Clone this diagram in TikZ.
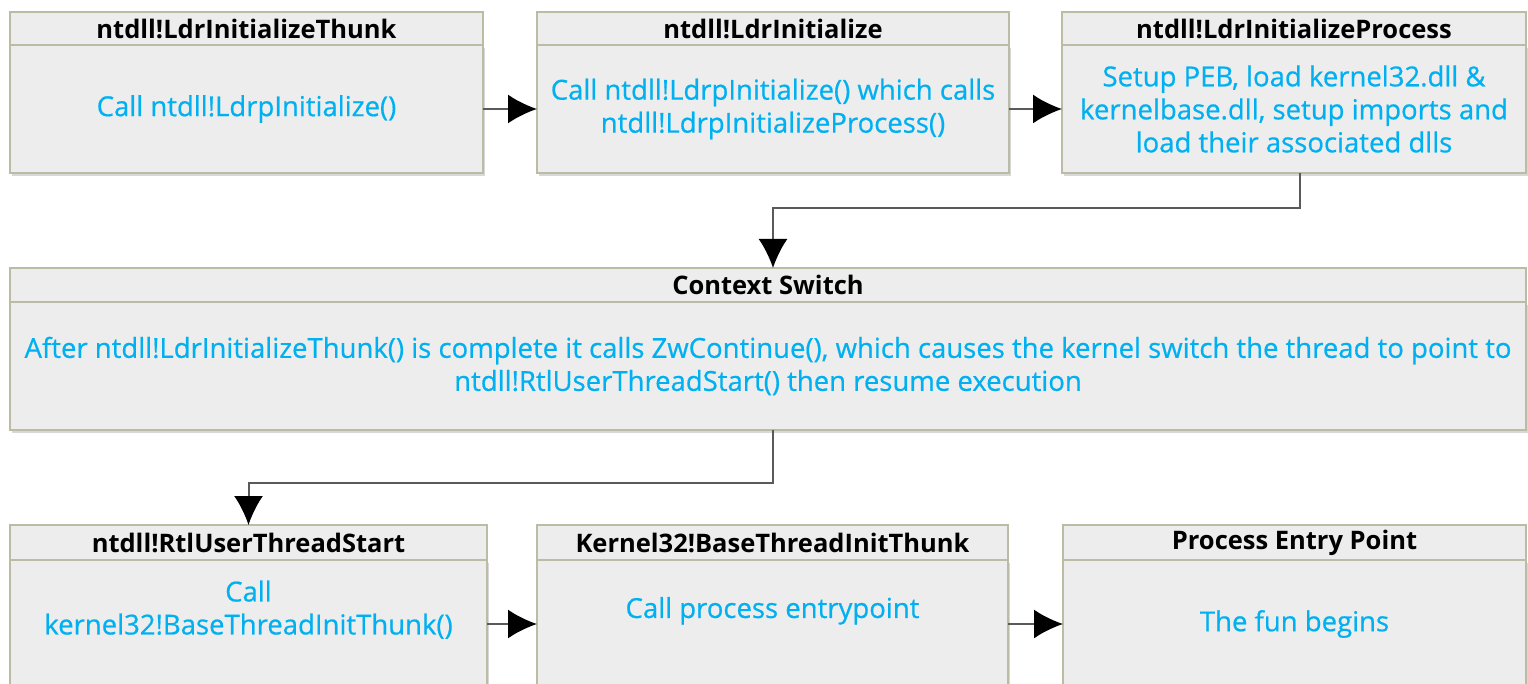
\documentclass[tikz,border=0pt]{standalone}
\usepackage{fontspec}
\setmainfont{Open Sans}
\newfontfamily\bodyfont[FakeBold=0.6]{Open Sans}
\usetikzlibrary{positioning}
\usetikzlibrary{arrows.meta}
\usetikzlibrary{shadows}
\definecolor{frame}{RGB}{188,188,164}
\definecolor{boxfill}{RGB}{237,237,237}
\definecolor{bodytext}{RGB}{0,176,240}
\definecolor{wire}{RGB}{90,90,90}

\begin{document}
\begin{tikzpicture}[x=1pt,y=-1pt,node distance=0pt,
  hd/.style={draw=frame,fill=boxfill,line width=1.5pt,minimum height=33pt,inner sep=0pt,outer sep=0pt,
    font=\fontsize{25.5}{30}\selectfont\bfseries},
  bd/.style={draw=frame,fill=boxfill,line width=1.5pt,minimum height=128pt,inner sep=0pt,outer sep=0pt,
    align=center,text=bodytext,font=\bodyfont\fontsize{27.5}{33}\selectfont,
    drop shadow={shadow xshift=1.5pt,shadow yshift=-3pt,fill=black!30,opacity=.5}},
  link/.style={wire,line width=2pt,-{Latex[length=29pt,width=29pt,black]}}]

\useasboundingbox (0,0) rectangle (1528,684);
\clip (0,0) rectangle (1528,684);

% top row
\node[hd,minimum width=473pt,anchor=north west] (thunkhd) at (10,12) {ntdll!LdrInitializeThunk};
\node[bd,minimum width=473pt,below=of thunkhd] (thunk) {Call ntdll!LdrpInitialize()};

\node[hd,minimum width=472pt,anchor=north west] (inithd) at (537,12) {ntdll!LdrInitialize};
\node[bd,minimum width=472pt,below=of inithd] (init) {Call ntdll!LdrpInitialize() which calls\\ ntdll!LdrpInitializeProcess()};

\node[hd,minimum width=464pt,anchor=north west] (prochd) at (1062,12) {ntdll!LdrInitializeProcess};
\node[bd,minimum width=464pt,below=of prochd] (proc) {Setup PEB, load kernel32.dll \&\\ kernelbase.dll, setup imports and\\ load their associated dlls};

% context switch
\node[hd,minimum width=1516pt,minimum height=34pt,anchor=north west] (cshd) at (10,268) {Context Switch};
\node[bd,minimum width=1516pt,below=of cshd] (cs) {After ntdll!LdrInitializeThunk() is complete it calls ZwContinue(), which causes the kernel switch the thread to point to\\ ntdll!RtlUserThreadStart() then resume execution};

% bottom row
\node[hd,minimum width=477pt,minimum height=35pt,anchor=north west] (rtlhd) at (10,525) {ntdll!RtlUserThreadStart};
\node[bd,minimum width=477pt,below=of rtlhd] (rtl) {Call\\ kernel32!BaseThreadInitThunk()\\ \mbox{}};

\node[hd,minimum width=471pt,minimum height=35pt,anchor=north west] (basehd) at (537,525) {Kernel32!BaseThreadInitThunk};
\node[bd,minimum width=471pt,below=of basehd] (base) {Call process entrypoint\\ \mbox{}};

\node[hd,minimum width=463pt,minimum height=35pt,anchor=north west] (entryhd) at (1063,525) {Process Entry Point};
\node[bd,minimum width=463pt,below=of entryhd] (entry) {The fun begins};

% flow
\draw[link] (thunk.east) -- (init.west);
\draw[link] (init.east) -- (proc.west);
\draw[link] ([xshift=6pt]proc.south) -- ++(0,35) -| ([xshift=5pt]cshd.north);
\draw[link] ([xshift=5pt]cs.south) -- ++(0,53) -| (rtlhd.north);
\draw[link] (rtl.east) -- (base.west);
\draw[link] (base.east) -- (entry.west);
\end{tikzpicture}
\end{document}
